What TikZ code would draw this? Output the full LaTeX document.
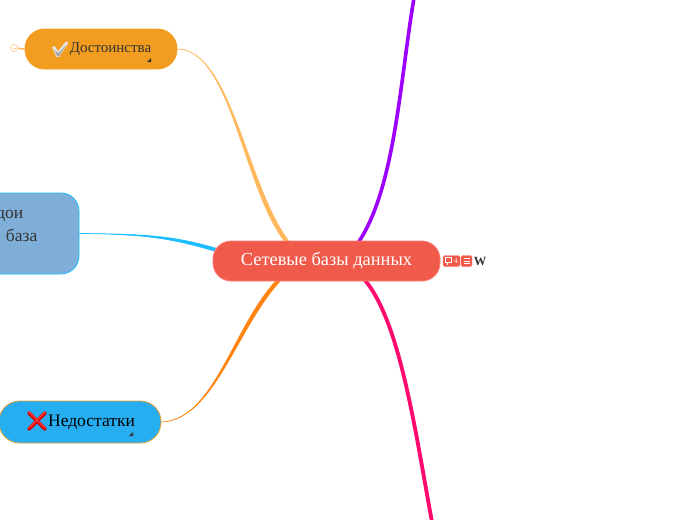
\documentclass[tikz,border=0pt]{standalone}
\usepackage{fontspec}
\setmainfont{Liberation Serif}
\usetikzlibrary{arrows.meta,backgrounds}
\definecolor{rootfill}{HTML}{EF5A4B}
\definecolor{rootline}{HTML}{FF7C74}
\definecolor{goodfill}{HTML}{F29D1F}
\definecolor{goodline}{HTML}{FFB85C}
\definecolor{modelfill}{HTML}{7FAFD8}
\definecolor{modelline}{HTML}{1CBEFF}
\definecolor{badfill}{HTML}{27AEF0}
\definecolor{badline}{HTML}{E8A030}
\definecolor{badcurve}{HTML}{FF8412}
\definecolor{purplecurve}{HTML}{9D00FF}
\definecolor{pinkcurve}{HTML}{FF0A6E}
\definecolor{darktext}{HTML}{333333}
% curve that gets thinner from #1 to #2: #3, #4 controls, #5 #6 half width, #7 colour
\newcommand{\branch}[7]{
  \filldraw[#7, line width=0.7pt]
    ([shift={(#5,#6)}]#1) .. controls ([shift={(#5,#6)}]#3) and (#4) .. (#2)
    .. controls (#4) and ([shift={(-#5,-#6)}]#3) .. ([shift={(-#5,-#6)}]#1) -- cycle;
}
\tikzset{
  topic/.style={draw, line width=0.8pt, inner sep=0pt, anchor=center},
  badge/.style={fill=rootfill, draw=rootline, line width=0.4pt, rounded corners=1.5pt, inner sep=0pt},
}
\begin{document}
\begin{tikzpicture}[x=1pt,y=-1pt]
    \useasboundingbox (0,0) rectangle (697,520);
    \clip (0,0) rectangle (697,520);

    \node (root) [topic, fill=rootfill, draw=rootline, rounded corners=18pt, minimum width=227pt, minimum height=40pt,
      text=white, font=\fontsize{18.4}{20}\selectfont] at (326.5,261) {\raisebox{-1pt}{Сетевые базы данных}};
    \node (good) [topic, fill=goodfill, draw=goodfill, rounded corners=19.5pt, minimum width=152pt, minimum height=40pt,
      text=darktext, font=\fontsize{15}{18}\selectfont] at (101,49) {\hspace{19pt}\raisebox{-1.5pt}{Достоинства}};
    \node (model) [topic, fill=modelfill, draw=modelline, rounded corners=18pt, minimum width=120pt, minimum height=81pt] at (19,233.5) {};
    \node (modeltop) [text=darktext, font=\fontsize{17.5}{18}\selectfont, inner sep=0pt, anchor=base east] at (23.5,218) {дои};
    \node (modelbottom) [text=darktext, font=\fontsize{17.5}{18}\selectfont, inner sep=0pt, anchor=base east] at (37.5,241) {база};
    \node (bad) [topic, fill=badfill, draw=badline, rounded corners=20.5pt, minimum width=162pt, minimum height=42pt,
      text=black, font=\fontsize{17.5}{18}\selectfont] at (80,422) {\hspace{23pt}Недостатки};

    \coordinate (goodstart) at ([xshift=-38pt,yshift=-3pt]root.north);
    \coordinate (modelstart) at ([xshift=4pt,yshift=11pt]root.west);
    \coordinate (badstart) at ([xshift=-46pt,yshift=3pt]root.south);
    \coordinate (purplestart) at ([xshift=31pt,yshift=-3pt]root.north);
    \coordinate (pinkstart) at ([xshift=37pt,yshift=3pt]root.south);
    \coordinate (purpleend) at (414,-2);
    \coordinate (pinkend) at (432,522);

    \begin{pgfonlayer}{background}
      \branch{goodstart}{good.east}{245,190}{232,50}{2.2pt}{0pt}{goodline}
      \branch{modelstart}{model.east}{175,238}{150,234}{0pt}{1.6pt}{modelline}
      \branch{badstart}{bad.east}{235,325}{215,420}{2.2pt}{0pt}{badcurve}
      \draw[purplecurve, line width=3.6pt] (purplestart) .. controls (395,190) and (400,80) .. (purpleend);
      \draw[pinkcurve, line width=3.8pt] (pinkstart) .. controls (400,320) and (415,430) .. (pinkend);
    \end{pgfonlayer}

    % check mark and cross
    \fill[white!80!gray] (52,47) -- (54.5,46) -- (58,51) -- (66,41.5) -- (68.5,42.5) -- (59,57) -- (56.5,57) -- cycle;
    \fill[gray!70] (54.5,50) -- (57,56) -- (59,56) -- (66,45) -- (58.5,53) -- cycle;
    \draw[red!85!black, line width=3.6pt, line cap=round] (29,413) -- (45,429) (45,413) -- (29,429);
    \draw[red!75!white, line width=1.2pt, line cap=round] (29,412) -- (45,428) (45,412) -- (29,428);

    % corner marks
    \fill[black!80] (151,58) -- (151,62) -- (147,62) -- cycle;
    \fill[black!80] (133,432) -- (133,436) -- (129,436) -- cycle;

    % collapse mark
    \node (toggle) [circle, draw=goodline!70!white, line width=0.7pt, minimum size=7pt, inner sep=0pt] at (14,48) {};
    \draw[goodline, line width=1.5pt] (toggle) -- (good.west);
    \draw[goodline!70!white, line width=0.5pt] (12.5,48) -- (15.5,48);

    % badges beside the root
    \node (notes) [badge, minimum width=17pt, minimum height=11pt, text=white, font=\fontsize{7}{7}\selectfont] at (451.5,261) {\hspace{9pt}4};
    \draw[white, line width=0.6pt] (445.5,257.5) rectangle (451.5,262.5) (447.5,262.5) -- (447.5,264.5);
    \node (list) [badge, minimum width=11pt, minimum height=11pt] at (466.5,261) {};
    \draw[white, line width=0.7pt] (463.5,258.5) -- (469.5,258.5) (463.5,261) -- (469.5,261) (463.5,263.5) -- (469.5,263.5);
    \node (wiki) [font=\fontsize{12.5}{12}\selectfont\bfseries, inner sep=0pt, text=darktext] at (480,261) {W};
\end{tikzpicture}
\end{document}
